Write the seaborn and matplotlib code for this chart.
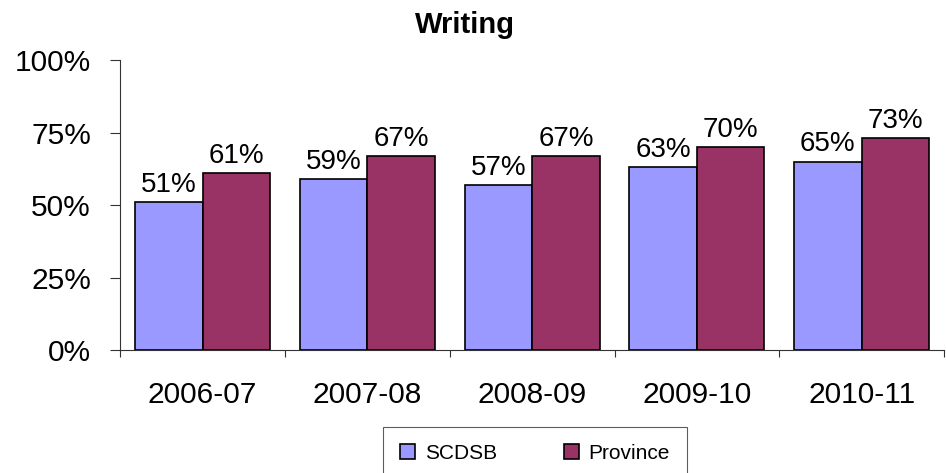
import matplotlib
matplotlib.use("Agg")
import matplotlib.pyplot as plt
import seaborn as sns
import pandas as pd
from matplotlib.ticker import FixedLocator, PercentFormatter

years = ["2006-07", "2007-08", "2008-09", "2009-10", "2010-11"]
scdsb = [51, 59, 57, 63, 65]
province = [61, 67, 67, 70, 73]
series_names = ["SCDSB", "Province"]
colors = ["#9999FF", "#993366"]
yticks = [0, 25, 50, 75, 100]

df = pd.DataFrame({
    "year": years * 2,
    "value": scdsb + province,
    "group": [series_names[0]] * len(years) + [series_names[1]] * len(years),
})

sns.set_style("white")
plt.rcParams["font.family"] = ["Liberation Sans", "DejaVu Sans"]
plt.rcParams["text.color"] = "black"

fig = plt.figure(figsize=(9.46, 4.73), dpi=100)
ax = fig.add_axes([0.127, 0.26, 0.871, 0.613])

sns.barplot(data=df, x="year", y="value", hue="group", palette=colors,
            width=0.82, edgecolor="black", linewidth=1.2, ax=ax,
            saturation=1, legend=True)

for cont in ax.containers:
    ax.bar_label(cont, labels=[f"{v:.0f}%" for v in cont.datavalues],
                 fontsize=20, padding=3, color="black")

ax.set_ylim(0, 100)
ax.set_xlim(-0.5, len(years) - 0.5)
ax.set_yticks(yticks)
ax.yaxis.set_major_formatter(PercentFormatter(decimals=0))
ax.tick_params(axis="y", labelsize=21.5, length=7, width=0.8, direction="out",
               left=True, pad=14, color="#333333", labelcolor="black")
ax.tick_params(axis="x", which="major", labelsize=21.5, length=0, pad=22,
               labelcolor="black")
ax.xaxis.set_minor_locator(FixedLocator([i - 0.5 for i in range(len(years) + 1)]))
ax.tick_params(axis="x", which="minor", length=5, width=0.8, direction="out",
               bottom=True, color="#333333")
ax.set_xlabel("")
ax.set_ylabel("")
fig.text(465 / 946, 1 - 33 / 473, "Writing", fontsize=21, fontweight="bold",
         ha="center", va="baseline", color="black")

for s in ["top", "right"]:
    ax.spines[s].set_visible(False)
for s in ["left", "bottom"]:
    ax.spines[s].set_color("#333333")
    ax.spines[s].set_linewidth(0.8)

handles, labels = ax.get_legend_handles_labels()
ax.legend_.remove()
leg = fig.legend(handles, labels, loc="upper center",
                 bbox_to_anchor=(535 / 946, 1 - 427 / 473),
                 ncol=2, frameon=True, fancybox=False, fontsize=15,
                 edgecolor="#333333", handlelength=0.72, handleheight=0.72,
                 handletextpad=0.48, columnspacing=3.2, borderpad=0.8,
                 borderaxespad=0)
leg.get_frame().set_linewidth(0.8)
for t in leg.get_texts():
    t.set_color("black")

fig.savefig("out.png", dpi=100)
